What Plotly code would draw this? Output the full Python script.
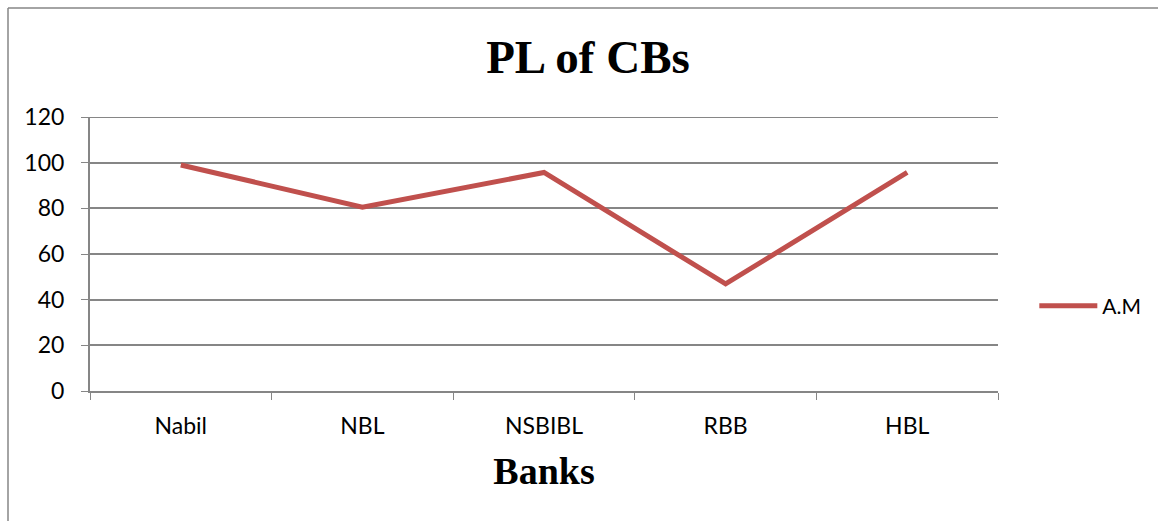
import plotly.graph_objects as go

banks = ["Nabil", "NBL", "NSBIBL", "RBB", "HBL"]
am_values = [99.0, 80.5, 95.7, 46.9, 95.7]
y_ticks = [0, 20, 40, 60, 80, 100, 120]

W, H = 1158, 521
L, R, T, B = 90, 160, 117, 130

fig = go.Figure()
fig.add_trace(go.Scatter(
    x=banks, y=am_values, mode="lines", name="A.M",
    line=dict(color="#C0504D", width=5),
))

fig.update_layout(
    width=W, height=H,
    margin=dict(l=L, r=R, t=T, b=B),
    paper_bgcolor="white", plot_bgcolor="white",
    showlegend=True,
    legend=dict(x=1.04, y=0.31, xanchor="left", yanchor="middle",
                font=dict(family="Lato, sans-serif", size=21, color="black"),
                bgcolor="rgba(0,0,0,0)", itemwidth=58),
    title=dict(text="<b>PL of CBs</b>", x=588 / W, xref="container", xanchor="center",
               y=1 - 57 / H, yanchor="middle", yref="container",
               font=dict(family="Liberation Serif, serif", size=47, color="black")),
    xaxis=dict(
        type="category", range=[-0.5, 4.5],
        tickson="boundaries", ticks="outside", ticklen=7, tickcolor="#868686",
        showline=True, linecolor="#868686", linewidth=2,
        showgrid=False, ticklabelstandoff=13,
        tickfont=dict(family="Lato, sans-serif", size=23, color="black"),
        title=dict(text="<b>Banks</b>", standoff=20,
                   font=dict(family="Liberation Serif, serif", size=38, color="black")),
    ),
    yaxis=dict(
        range=[0, 120], tickvals=y_ticks,
        ticks="outside", ticklen=7, tickcolor="#868686",
        showline=True, linecolor="#868686", linewidth=2,
        showgrid=True, gridcolor="#868686", gridwidth=2,
        zeroline=False, ticklabelstandoff=12,
        tickfont=dict(family="Lato, sans-serif", size=23, color="black"),
    ),
    shapes=[
        # top gridline (at the top of the y range)
        dict(type="line", xref="paper", yref="y",
             x0=0, x1=1, y0=y_ticks[-1], y1=y_ticks[-1],
             line=dict(color="#868686", width=2), layer="below"),
        # chart frame (top and left edges)
        dict(type="line", xref="paper", yref="paper",
             x0=-(L - 8) / (W - L - R), x1=(W - L) / (W - L - R),
             y0=(H - B - 8) / (H - T - B), y1=(H - B - 8) / (H - T - B),
             line=dict(color="#868686", width=1.5)),
        dict(type="line", xref="paper", yref="paper",
             x0=-(L - 8) / (W - L - R), x1=-(L - 8) / (W - L - R),
             y0=(H - B - 8) / (H - T - B), y1=-B / (H - T - B),
             line=dict(color="#868686", width=1.5)),
    ],
    annotations=[
        dict(text="<b>PL of CBs</b>", xref="paper", yref="paper",
             x=(590 - L) / (W - L - R), y=(H - B - 5) / (H - T - B),
             xanchor="center", yanchor="bottom", showarrow=False,
             font=dict(family="Liberation Serif, serif", size=24, color="black")),
    ],
)

fig.write_html("out.html")
